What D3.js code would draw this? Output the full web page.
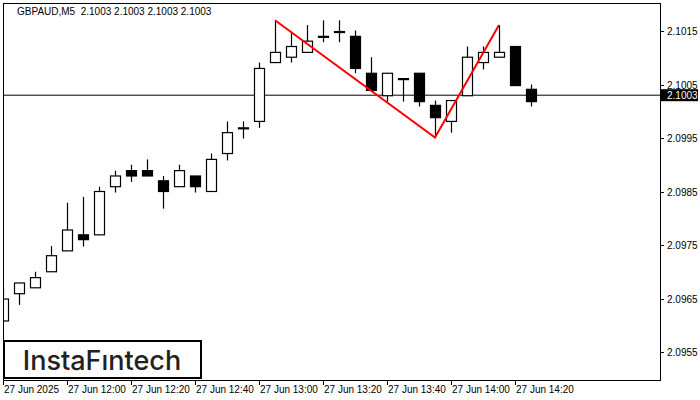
<!DOCTYPE html>
<html><head><meta charset="utf-8">
<script src="https://cdn.jsdelivr.net/npm/d3@7"></script>
<style>body{margin:0;background:#fff}svg{display:block}</style>
</head><body><svg id="c" width="700" height="400"></svg>
<script>
// candles
const opens  = [2.09608,2.09659,2.09670,2.09700,2.09739,2.09769,2.09769,2.09859,2.09889,2.09889,2.09870,2.09859,2.09879,2.09850,2.09921,2.09969,2.09981,2.10091,2.10101,2.10110,2.10140,2.10149,2.10140,2.10071,2.10029,2.10061,2.10071,2.10011,2.09981,2.10029,2.10091,2.10101,2.10121,2.10041];
const highs  = [2.09670,2.09679,2.09700,2.09748,2.09829,2.09840,2.09859,2.09889,2.09900,2.09910,2.09879,2.09900,2.09879,2.09921,2.09981,2.09981,2.10091,2.10170,2.10147,2.10161,2.10170,2.10170,2.10151,2.10101,2.10071,2.10061,2.10071,2.10020,2.10020,2.10121,2.10121,2.10161,2.10121,2.10050];
const lows   = [2.09604,2.09638,2.09670,2.09700,2.09739,2.09747,2.09769,2.09848,2.09868,2.09879,2.09818,2.09859,2.09848,2.09850,2.09908,2.09949,2.09969,2.10091,2.10091,2.10110,2.10129,2.10129,2.10071,2.10039,2.10018,2.10018,2.10009,2.09951,2.09960,2.10029,2.10078,2.10101,2.10048,2.10009];
const closes = [2.09649,2.09679,2.09689,2.09730,2.09778,2.09760,2.09850,2.09879,2.09879,2.09879,2.09850,2.09889,2.09859,2.09910,2.09960,2.09969,2.10080,2.10110,2.10121,2.10131,2.10140,2.10149,2.10080,2.10039,2.10071,2.10061,2.10018,2.09988,2.10020,2.10101,2.10110,2.10110,2.10048,2.10018];
const priceTicks = [2.0955,2.0965,2.0975,2.0985,2.0995,2.1005,2.1015];
const timeIdx = [0,4,8,12,16,20,24,28,32];
const timeLabels = ["27 Jun 2025","27 Jun 12:00","27 Jun 12:20","27 Jun 12:40","27 Jun 13:00","27 Jun 13:20","27 Jun 13:40","27 Jun 14:00","27 Jun 14:20"];
const lastPrice = 2.1003;
// pattern: [candle index, price]
const pattern = [[17,2.10170],[27,2.09951],[31,2.10161]];

const svg = d3.select("#c");
const pl = 3, pr = 660, pt = 3, pb = 380;
const x = d3.scaleLinear().domain([0,1]).range([3,19]);
const y = d3.scaleLinear().domain([2.0955,2.1015]).range([352,31]);
const font = "'Liberation Sans', Arial, sans-serif";

const g = svg.append("g");
g.append("defs").append("clipPath").attr("id","clip")
  .append("rect").attr("x",pl).attr("y",pt).attr("width",pr-pl).attr("height",pb-pt);
const plot = g.append("g").attr("clip-path","url(#clip)");

// last price line
plot.append("line").attr("x1",pl).attr("x2",pr).attr("y1",y(lastPrice)).attr("y2",y(lastPrice))
  .attr("stroke","#000").attr("stroke-width",1);

const idx = d3.range(opens.length);
plot.selectAll(".wick").data(idx).join("line")
  .attr("x1",i=>Math.round(x(i))+0.5).attr("x2",i=>Math.round(x(i))+0.5)
  .attr("y1",i=>y(highs[i])).attr("y2",i=>y(lows[i]))
  .attr("stroke","#000").attr("stroke-width",1.2);
plot.selectAll(".body").data(idx).join("rect")
  .attr("x",i=>Math.round(x(i))-4.5).attr("width",10)
  .attr("y",i=>y(Math.max(opens[i],closes[i])))
  .attr("height",i=>Math.max(1,Math.abs(y(opens[i])-y(closes[i]))))
  .attr("fill",i=>closes[i]<opens[i]?"#000":"#fff")
  .attr("stroke","#000").attr("stroke-width",1.2);

plot.append("path")
  .attr("d",d3.line().x(d=>x(d[0])).y(d=>y(d[1]))(pattern))
  .attr("fill","none").attr("stroke","#f00").attr("stroke-width",2);

// frame
g.append("rect").attr("x",pl+0.5).attr("y",pt+0.5).attr("width",pr-pl).attr("height",pb-pt)
  .attr("fill","none").attr("stroke","#000");

// right axis
priceTicks.forEach(p=>{
  g.append("line").attr("x1",pr).attr("x2",pr+4).attr("y1",Math.round(y(p))+0.5).attr("y2",Math.round(y(p))+0.5).attr("stroke","#000");
  g.append("text").attr("x",pr+7).attr("y",y(p)+4).text(p.toFixed(4))
    .attr("font-family",font).attr("font-size",10).attr("fill","#000");
});
g.append("rect").attr("x",pr+1).attr("y",y(lastPrice)-6).attr("width",37).attr("height",12).attr("fill","#000");
g.append("text").attr("x",pr+7).attr("y",y(lastPrice)+4).text(lastPrice.toFixed(4))
  .attr("font-family",font).attr("font-size",10).attr("fill","#fff");

// bottom axis
timeIdx.forEach((t,k)=>{
  g.append("line").attr("x1",Math.round(x(t))+0.5).attr("x2",Math.round(x(t))+0.5).attr("y1",pb).attr("y2",pb+5).attr("stroke","#000");
  g.append("text").attr("x",x(t)+1).attr("y",pb+13).text(timeLabels[k])
    .attr("font-family",font).attr("font-size",10).attr("fill","#000");
});

// title
g.append("text").attr("x",17).attr("y",15).text("GBPAUD,M5  2.1003 2.1003 2.1003 2.1003")
  .attr("font-family",font).attr("font-size",10).attr("fill","#000").attr("xml:space","preserve");

// logo
g.append("rect").attr("x",4).attr("y",341).attr("width",197).attr("height",37).attr("fill","#fff").attr("stroke","#000").attr("stroke-width",2);
g.append("text").attr("x",102).attr("y",370).attr("text-anchor","middle").text("InstaFıntech")
  .attr("font-family","Inter, 'Open Sans', sans-serif").attr("font-size",27).attr("font-weight",500).attr("fill","#222");
</script></body></html>
